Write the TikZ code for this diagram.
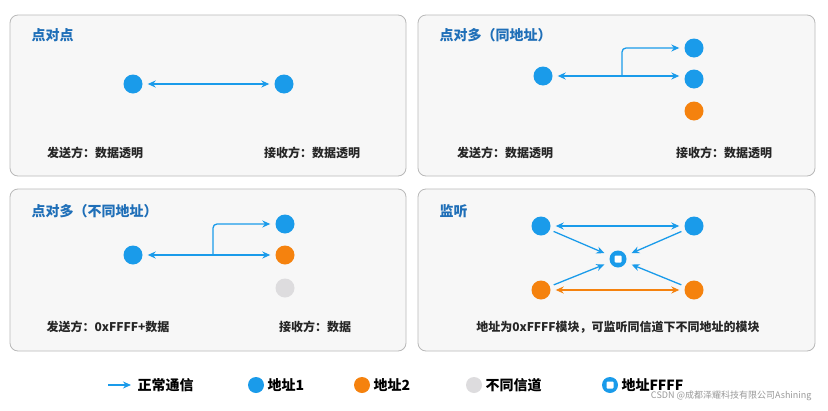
\documentclass[tikz,border=0pt]{standalone}
\usepackage{fontspec}
\setmainfont{Noto Sans CJK SC}
\usetikzlibrary{arrows.meta}
\definecolor{cb}{HTML}{1A9BEA}
\definecolor{co}{HTML}{F5820E}
\definecolor{cg}{HTML}{DDDCDE}
\definecolor{ct}{HTML}{1F6FB8}
\tikzset{
 panel/.style={draw=gray!55,fill=gray!6,rounded corners=8pt,line width=0.8pt},
 ttl/.style={text=ct,font=\bfseries\fontsize{14}{14}\selectfont,anchor=west},
 lbl/.style={font=\bfseries\fontsize{12}{12}\selectfont,text=black!85},
 leg/.style={anchor=west,font=\bfseries\fontsize{14}{14}\selectfont},
 dotb/.style={circle,fill=cb,minimum size=19pt,inner sep=0},
 doto/.style={circle,fill=co,minimum size=19pt,inner sep=0},
 dotg/.style={circle,fill=cg,minimum size=19pt,inner sep=0},
 icon/.style={circle,fill=cb,minimum size=17pt,inner sep=0,path picture={\fill[white,rounded corners=1pt] ([xshift=-3.5pt,yshift=-3.5pt]path picture bounding box.center) rectangle ++(7pt,7pt);}},
 ar/.style={cb,line width=1.3pt,-{Stealth[length=8pt,width=7pt]}},
 dar/.style={ar,{Stealth[length=8pt,width=7pt]}-{Stealth[length=8pt,width=7pt]},shorten <=5pt,shorten >=5pt},
}
\begin{document}
\begin{tikzpicture}[x=1pt,y=-1pt]
\fill[white] (0,0) rectangle (828,410);
\useasboundingbox (0,0) rectangle (828,410);
\draw[panel] (10,15) rectangle (406,176);
\draw[panel] (418,15) rectangle (815,176);
\draw[panel] (10,189) rectangle (406,351);
\draw[panel] (418,189) rectangle (815,351);
% panel 1
\node[ttl] (t1) at (28,35) {点对点};
\node[dotb] (a1) at (133,84) {};
\node[dotb] (b1) at (284,84) {};
\draw[dar] (a1) -- (b1);
\node[lbl] (s1) at (95,153) {发送方：数据透明};
\node[lbl] (r1) at (312,153) {接收方：数据透明};
% panel 2
\node[ttl] (t2) at (436,35) {点对多（同地址）};
\node[dotb] (a2) at (543,76) {};
\node[dotb] (b2) at (694,48) {};
\node[dotb] (c2) at (694,79) {};
\node[doto] (d2) at (694,111) {};
\coordinate (j2) at (622,76);
\draw[dar] (a2) -- (c2.west|-a2);
\draw[ar,rounded corners=4pt,shorten >=5pt] (j2) |- (b2);
\node[lbl] (s2) at (505,153) {发送方：数据透明};
\node[lbl] (r2) at (724,153) {接收方：数据透明};
% panel 3
\node[ttl] (t3) at (28,211) {点对多（不同地址）};
\node[dotb] (a3) at (133,255) {};
\node[dotb] (b3) at (285,224) {};
\node[doto] (c3) at (285,255) {};
\node[dotg] (d3) at (285,288) {};
\coordinate (j3) at (213,255);
\draw[dar] (a3) -- (c3);
\draw[ar,rounded corners=4pt,shorten >=5pt] (j3) |- (b3);
\node[lbl] (s3) at (108,327) {发送方：0xFFFF+数据};
\node[lbl] (r3) at (315,327) {接收方：数据};
% panel 4
\node[ttl] (t4) at (436,211) {监听};
\node[dotb] (a4) at (541,226) {};
\node[dotb] (b4) at (694,226) {};
\node[doto] (c4) at (541,290) {};
\node[doto] (d4) at (694,290) {};
\node[icon] (m4) at (618,259) {};
\draw[dar] (a4) -- (b4);
\draw[dar,co] (c4) -- (d4);
\draw[ar,shorten >=6pt,shorten <=4pt] (a4) -- (m4);
\draw[ar,shorten >=6pt,shorten <=4pt] (b4) -- (m4);
\draw[ar,shorten >=6pt,shorten <=4pt] (c4) -- (m4);
\draw[ar,shorten >=6pt,shorten <=4pt] (d4) -- (m4);
\node[lbl] (n4) at (618,327) {地址为0xFFFF模块，可监听同信道下不同地址的模块};
% legend
\coordinate (la) at (108,385);
\coordinate (lb) at (131,385);
\draw[ar] (la) -- (lb);
\node[leg] (l1) at (134,385) {正常通信};
\node[dotb,minimum size=16pt] (g1) at (256,385) {};
\node[leg] (l2) at (264,385) {地址1};
\node[doto,minimum size=16pt] (g2) at (362,385) {};
\node[leg] (l3) at (370,385) {地址2};
\node[dotg,minimum size=16pt] (g3) at (474,385) {};
\node[leg] (l4) at (482,385) {不同信道};
\node[icon,minimum size=16pt] (g4) at (610,385) {};
\node[leg] (l5) at (618,385) {地址FFFF};
\node[anchor=east,text=gray!80,font=\fontsize{9}{9}\selectfont] (wm) at (815,396) {CSDN @成都泽耀科技有限公司Ashining};
\end{tikzpicture}
\end{document}
